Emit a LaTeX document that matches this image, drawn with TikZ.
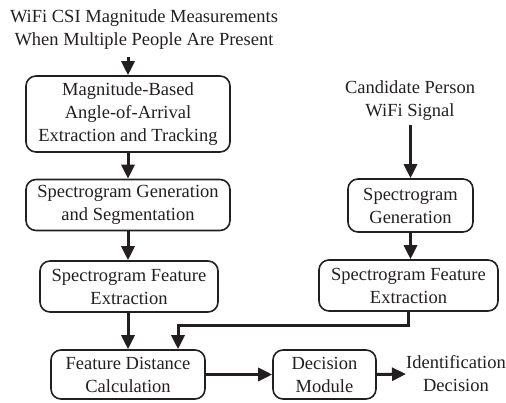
\documentclass[tikz,border=0pt]{standalone}
\usepackage{fontspec}
\setmainfont{Liberation Serif}
\usetikzlibrary{arrows.meta}
\definecolor{ink}{HTML}{231F20}
\begin{document}
\begin{tikzpicture}[x=1pt,y=-1pt,
  box/.style={draw=ink, line width=1.6pt, rounded corners=10pt, align=center, inner sep=0pt, font=\fontsize{18.5}{23}\selectfont, text=ink},
  lab/.style={align=center, inner sep=0pt, font=\fontsize{18.5}{23}\selectfont, text=ink},
  arr/.style={draw=ink, line width=3pt, -{Triangle[length=14pt,width=13pt]}}]
\useasboundingbox (0,0) rectangle (506,403);
\node[lab] (src) at (144,30) {WiFi CSI Magnitude Measurements\\When Multiple People Are Present};
\node[box, minimum width=204pt, minimum height=76pt] (aoa) at (128,114) {Magnitude-Based\\Angle-of-Arrival\\Extraction and Tracking};
\node[box, minimum width=204pt, minimum height=51pt] (sgs) at (128,205) {Spectrogram Generation\\and Segmentation};
\node[box, minimum width=178pt, minimum height=51pt] (sfe1) at (129,286.5) {Spectrogram Feature\\Extraction};
\node[box, minimum width=154pt, minimum height=49pt] (fdc) at (128,374.5) {Feature Distance\\Calculation};
\node[box, minimum width=103pt, minimum height=49pt] (dec) at (324.5,374.5) {Decision\\Module};
\node[lab] (idd) at (456,374) {Identification\\Decision};
\node[lab] (cand) at (410,101) {Candidate Person\\WiFi Signal};
\node[box, minimum width=125pt, minimum height=53pt] (sg) at (410.5,205.5) {Spectrogram\\Generation};
\node[box, minimum width=179pt, minimum height=51pt] (sfe2) at (408.5,285.5) {Spectrogram Feature\\Extraction};
\coordinate (top1) at (128,57);
\coordinate (bend1) at (408,326);
\coordinate (bend2) at (178,326);
\draw[arr] (top1) -- (aoa.north);
\draw[arr] (aoa.south) -- (sgs.north);
\draw[arr] (sgs.south) -- (sfe1.north -| sgs.south);
\draw[arr] (sfe1.south -| fdc.north) -- (fdc.north);
\draw[arr] (fdc.east) -- (dec.west);
\draw[arr] (dec.east) -- (idd.west);
\draw[arr] ([yshift=-4pt]cand.south -| sg.north) -- (sg.north);
\draw[arr] (sg.south) -- (sg.south |- sfe2.north);
\draw[arr] (sfe2.south -| bend1) -- (bend1) -- (bend2) -- (bend2 |- fdc.north);
\end{tikzpicture}
\end{document}
